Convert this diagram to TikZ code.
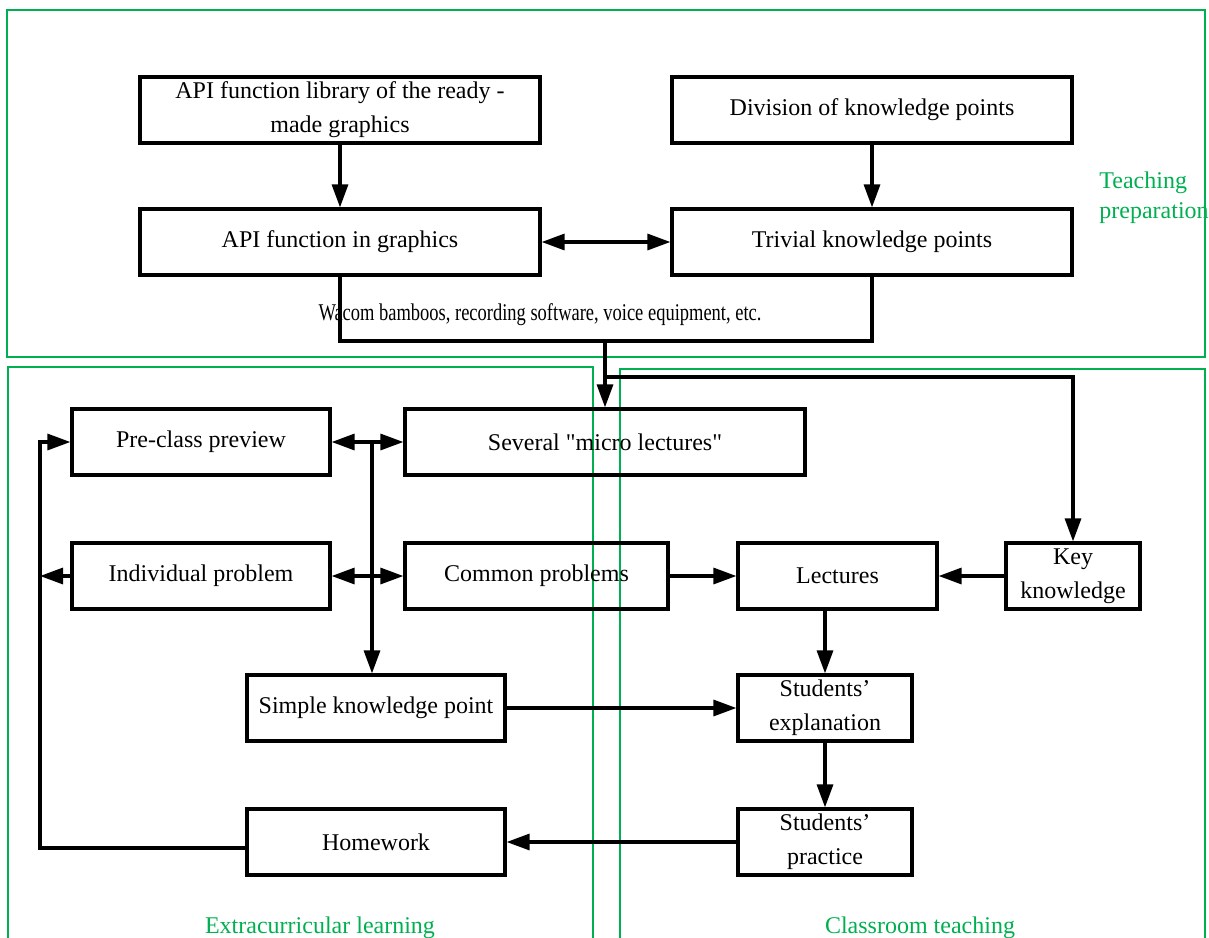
\documentclass[tikz,border=0pt]{standalone}
\usepackage{fontspec}
\setmainfont{Liberation Serif}
\newfontfamily\plainquote{Liberation Serif}
\usetikzlibrary{arrows.meta, positioning}
\definecolor{zonegreen}{RGB}{0,176,80}

\begin{document}
\begin{tikzpicture}[
        x=0.5pt, y=-0.5pt,
        box/.style={rectangle, draw=black, line width=1.6pt, minimum height=33pt, inner sep=1pt, align=center, font=\fontsize{12}{17}\selectfont},
        line/.style={line width=1.6pt, draw=black},
        arr/.style={line, -{Triangle[length=11.5pt, width=8pt]}},
        biarr/.style={line, {Triangle[length=11.5pt, width=8pt]}-{Triangle[length=11.5pt, width=8pt]}},
        frame/.style={draw=zonegreen, line width=0.8pt},
        zone/.style={text=zonegreen, font=\fontsize{12}{15}\selectfont, inner sep=0pt},
        note/.style={font=\fontsize{12}{15}\selectfont, inner sep=0pt}
    ]
        \useasboundingbox (0,0) rectangle (1209,937);

        % ----------------------------------------------------
        % ZONES
        % ----------------------------------------------------
        \draw[frame] (7,10) rectangle (1205,357);
        \draw[frame] (8,367) rectangle (593,950);
        \draw[frame] (620,369) rectangle (1205,950);
        \node[zone, anchor=west, align=left] (prep) at (1099,198) {Teaching\\preparation};
        \node[zone, anchor=base] (extra) at (320,933) {Extracurricular learning};
        \node[zone, anchor=base] (class) at (920,933) {Classroom teaching};

        % ----------------------------------------------------
        % TEACHING PREPARATION
        % ----------------------------------------------------
        \node[box, minimum width=200pt] (lib) at (340,110) {API function library of the ready -\\made graphics};
        \node[box, minimum width=200pt] (div) at (872,110) {Division of knowledge points};
        \node[box, minimum width=200pt] (apifun) at (340,242) {API function in graphics};
        \node[box, minimum width=200pt] (trivial) at (872,242) {Trivial knowledge points};
        \node[note, anchor=base] (tools) at (540,320) {\scalebox{0.77}[1]{Wacom bamboos, recording software, voice equipment, etc.}};

        \draw[arr] (lib) -- (apifun);
        \draw[arr] (div) -- (trivial);
        \draw[biarr] (apifun) -- (trivial);

        % ----------------------------------------------------
        % EXTRACURRICULAR / CLASSROOM
        % ----------------------------------------------------
        \node[box, minimum width=129pt] (preview) at (201,442) {Pre-class preview};
        \node[box, minimum width=200pt] (micro) at (605,442) {Several {\plainquote"}micro lectures{\plainquote"}};
        \node[box, minimum width=129pt] (indiv) at (201,576) {Individual problem};
        \node[box, minimum width=131.5pt] (common) at (536.5,576) {Common problems};
        \node[box, minimum width=99.5pt] (lectures) at (837.5,576) {Lectures};
        \node[box, minimum width=67pt] (key) at (1073,576) {Key\\knowledge};
        \node[box, minimum width=129pt] (simple) at (376,708) {Simple knowledge point};
        \node[box, minimum width=87pt] (explain) at (825,708) {Students'\\explanation};
        \node[box, minimum width=87pt] (practice) at (825,842) {Students'\\practice};
        \node[box, minimum width=129pt] (homework) at (376,842) {Homework};

        \coordinate (join) at (605,341);
        \coordinate (fork) at (605,377);
        \coordinate (split) at (372,442);
        \coordinate (loop) at (40,442);

        % Tools feed the micro lectures and key knowledge
        \draw[line] (apifun.south) |- (join) -| (trivial.south);
        \draw[arr] (join) -- (micro.north);
        \draw[arr] (fork) -| (key.north);

        % Micro lectures split
        \draw[arr] (split) -- (split |- simple.north);
        \draw[arr] (split) -- (preview.east);
        \draw[arr] (split) -- (micro.west);
        \draw[arr] (split |- indiv.east) -- (indiv.east);
        \draw[arr] (split |- indiv.east) -- (common.west);

        % Classroom flow
        \draw[arr] (common) -- (lectures);
        \draw[arr] (key) -- (lectures);
        \draw[arr] (explain.north |- lectures.south) -- (explain.north);
        \draw[arr] (simple) -- (explain);
        \draw[arr] (explain) -- (practice);
        \draw[arr] (practice) -- (homework);

        % Back to preview
        \draw[arr] ([yshift=-3pt]homework.west) -| (loop) -- (preview.west);
        \draw[arr] (indiv.west) -- (indiv.west -| loop);

    \end{tikzpicture}
\end{document}
